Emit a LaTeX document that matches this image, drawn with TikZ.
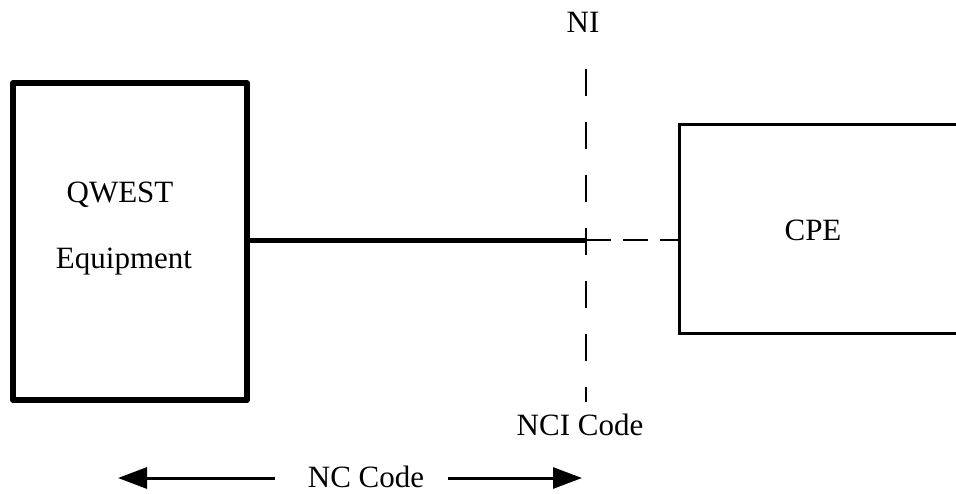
\documentclass[tikz,border=0pt]{standalone}
\usepackage{fontspec}
\setmainfont{Liberation Serif}
\usetikzlibrary{arrows.meta}
\begin{document}
\begin{tikzpicture}[x=1pt,y=1pt,
  lbl/.style={inner sep=0pt,font=\fontsize{31}{36}\selectfont},
  thickbox/.style={draw,line width=5.2pt,line join=round,minimum width=234pt,minimum height=317pt,inner sep=0pt},
  thinbox/.style={draw,line width=2.8pt,minimum width=290pt,minimum height=209pt,inner sep=0pt},
  wire/.style={line width=5pt},
  dashwire/.style={line width=2.6pt,dash pattern=on 25pt off 12pt},
  nidash/.style={line width=2.8pt,dash pattern=on 27pt off 26pt},
  dimarrow/.style={line width=3pt,-{Triangle[length=29pt,width=21pt]}}]
\useasboundingbox (0,0) rectangle (956,-493);
\clip (0,0) rectangle (956,-493);
% boxes
\node[thickbox] (qwest) at (130,-241.5) {};
\node[thinbox,anchor=north west] (cpe) at (678,-123) {};
% labels
\node[lbl,anchor=base] (qw1) at (120,-202) {QWEST};
\node[lbl,anchor=base] (qw2) at (124,-268) {Equipment};
\node[lbl,anchor=base] (cpel) at (813,-240) {CPE};
\node[lbl,anchor=base] (ni) at (583,-32) {NI};
\node[lbl,anchor=base] (nci) at (580,-435) {NCI Code};
\node[lbl,anchor=base] (nc) at (366,-487) {NC Code};
% NI line
\coordinate (nitop) at (586,-69);
\coordinate (nibot) at (586,-402);
\draw[nidash] (nitop) -- (nibot);
% connection
\coordinate (junc) at (586,-240);
\draw[wire] (qwest.east |- junc) -- (junc);
\draw[dashwire] (junc) -- (cpe.west |- junc);
% NC code arrows
\coordinate (lstart) at (275,-478);
\coordinate (ltip) at (118,-478);
\coordinate (rstart) at (448,-478);
\coordinate (rtip) at (582,-478);
\draw[dimarrow] (lstart) -- (ltip);
\draw[dimarrow] (rstart) -- (rtip);
\end{tikzpicture}
\end{document}
